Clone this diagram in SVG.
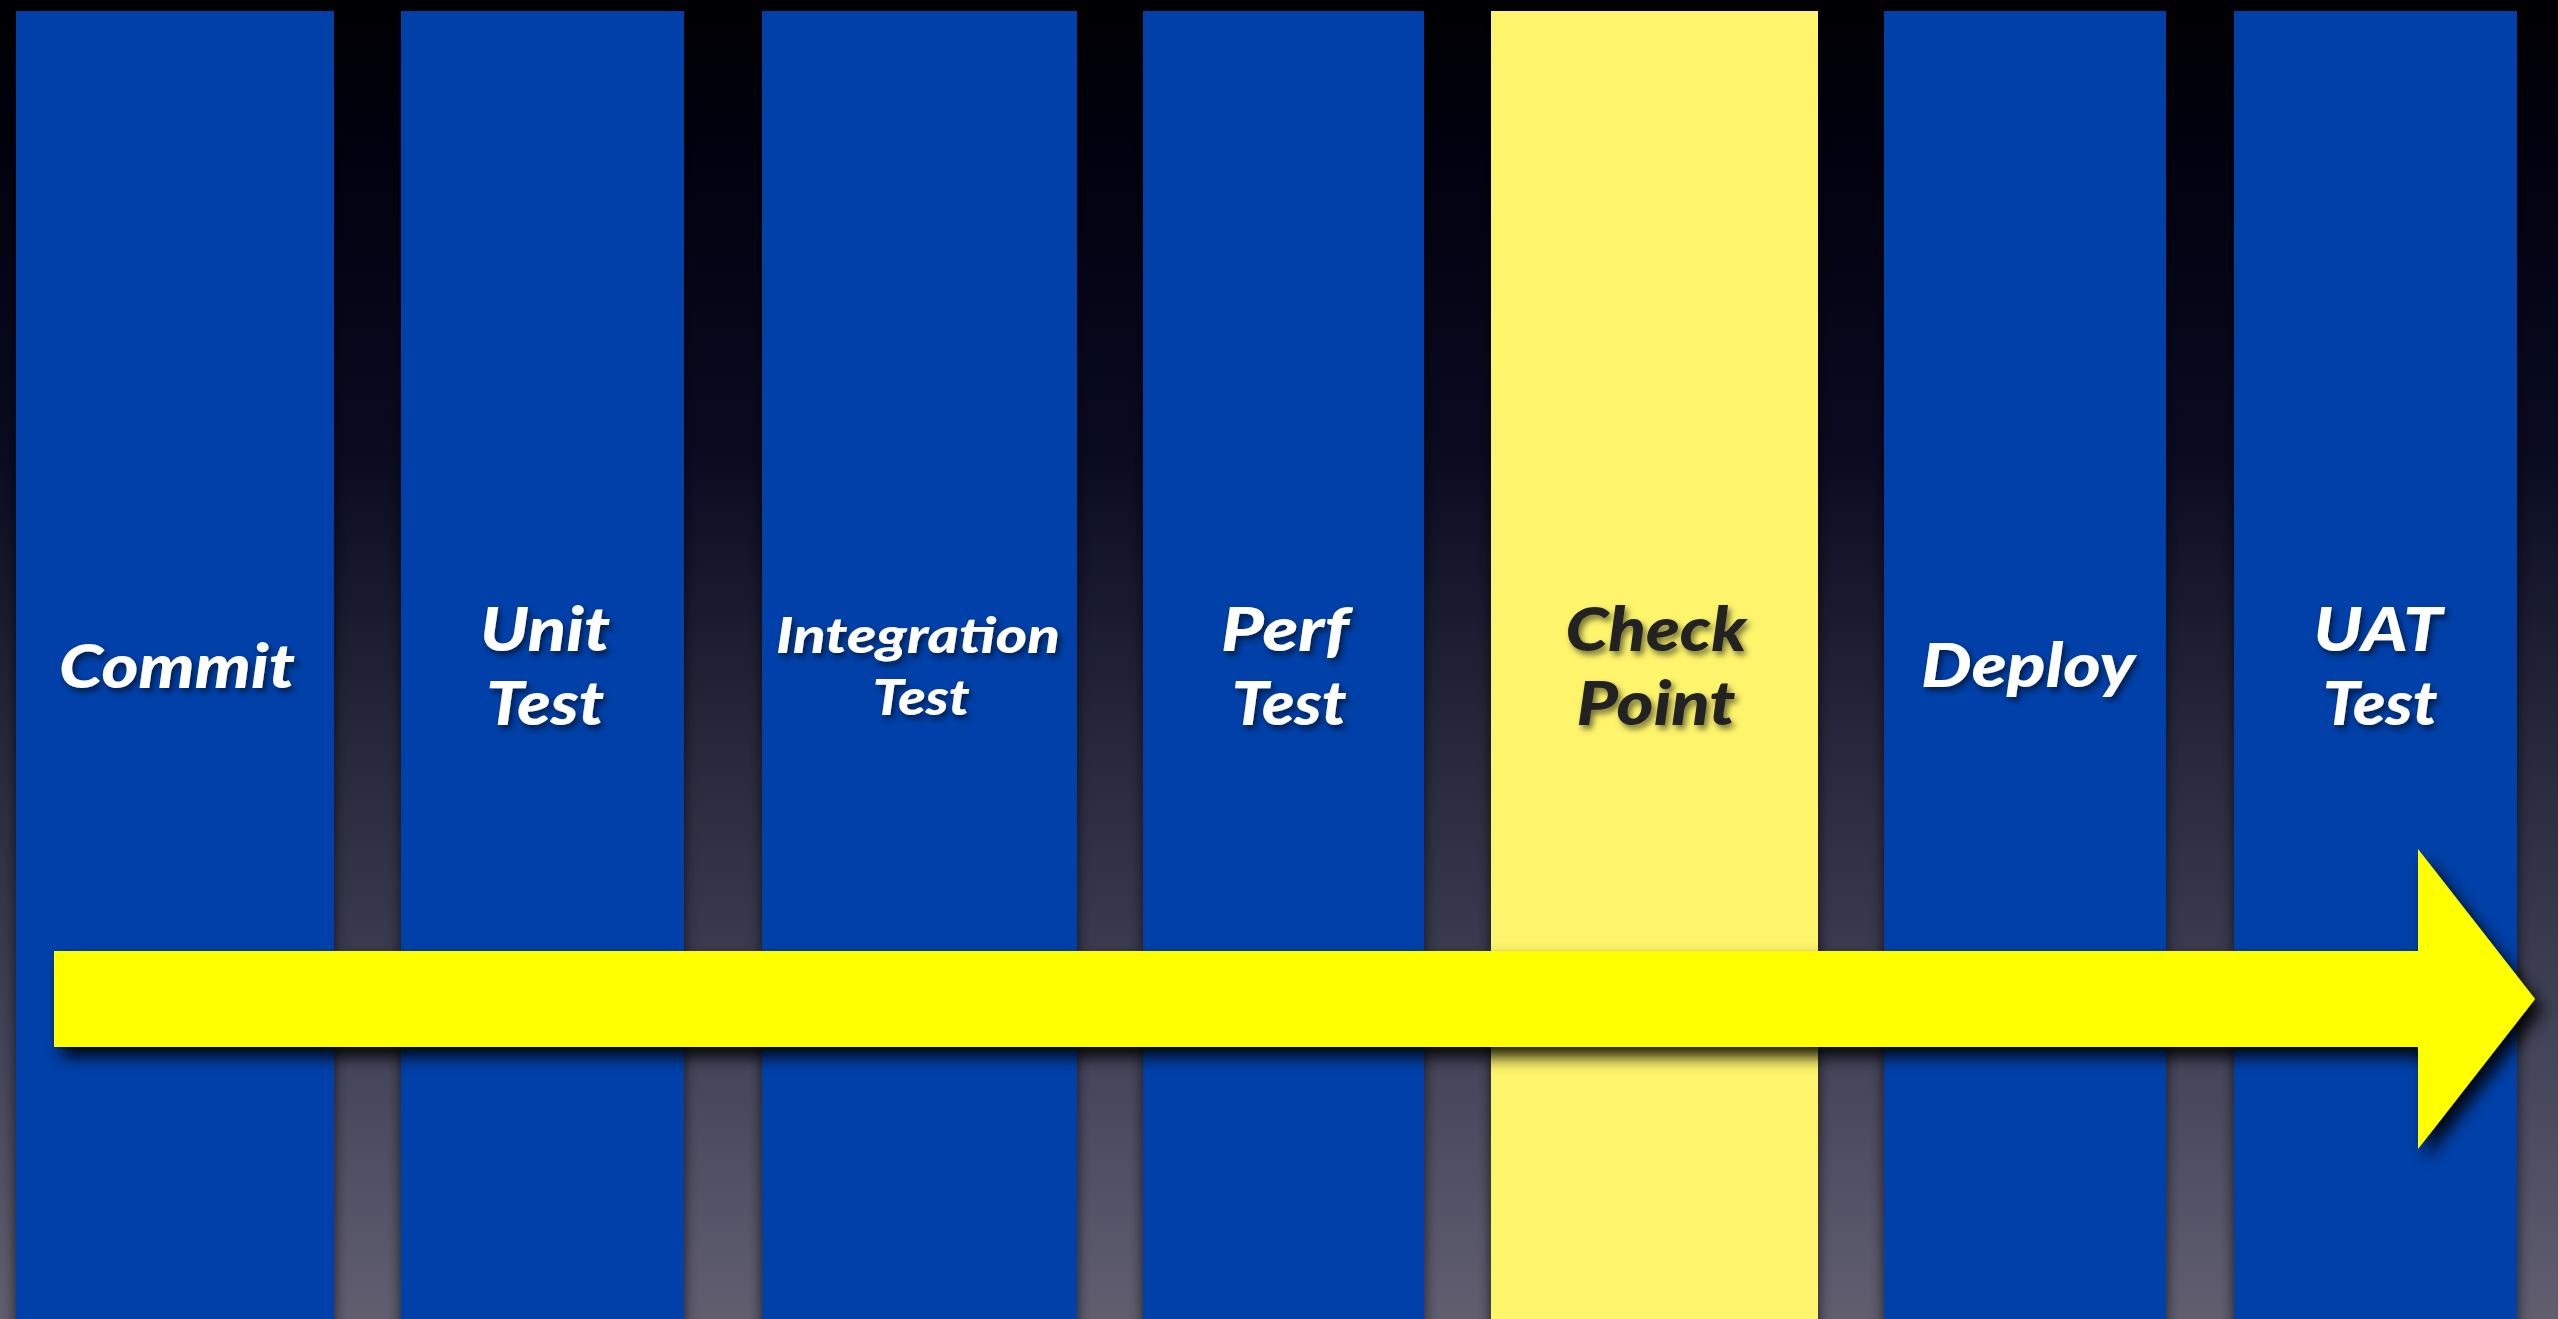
<svg xmlns="http://www.w3.org/2000/svg" width="2558" height="1319" viewBox="0 0 2558 1319">
<defs>
<linearGradient id="bg" x1="0" y1="0" x2="0" y2="1">
<stop offset="0" stop-color="#000003"/>
<stop offset="0.12" stop-color="#010110"/>
<stop offset="0.35" stop-color="#0b0b22"/>
<stop offset="0.55" stop-color="#26263a"/>
<stop offset="0.8" stop-color="#44445a"/>
<stop offset="1" stop-color="#615e70"/>
</linearGradient>
<filter id="colShadow" x="-10%" y="-5%" width="120%" height="110%">
<feDropShadow dx="0" dy="0" stdDeviation="7" flood-color="#000" flood-opacity="0.7"/>
</filter>
<filter id="arrowShadow" x="-5%" y="-30%" width="110%" height="160%">
<feDropShadow dx="8" dy="10" stdDeviation="8" flood-color="#000" flood-opacity="0.9"/>
</filter>
<filter id="txtShadow" x="-10%" y="-20%" width="120%" height="140%">
<feDropShadow dx="3" dy="4" stdDeviation="3" flood-color="#000" flood-opacity="0.55"/>
</filter>
</defs>
<style>
.col{fill:#0041a8;filter:url(#colShadow)}
.colY{fill:#fef56c;filter:url(#colShadow)}
.lbl{font-family:"Lato","Open Sans","Liberation Sans",sans-serif;font-weight:900;font-style:italic;font-size:61px;fill:#ffffff;text-anchor:middle;filter:url(#txtShadow)}
.small{font-size:50px}
.dark{fill:#222222}
</style>
<rect x="0" y="0" width="2558" height="1319" fill="url(#bg)"/>
<g id="commit">
<rect class="col" x="16" y="11" width="318" height="1330"/>
<text class="lbl" x="177" y="688" textLength="236" lengthAdjust="spacingAndGlyphs">Commit</text>
</g>
<g id="unit-test">
<rect class="col" x="401" y="11" width="283" height="1330"/>
<text class="lbl" x="545" y="651" textLength="130" lengthAdjust="spacingAndGlyphs">Unit</text>
<text class="lbl" x="545" y="725" textLength="118" lengthAdjust="spacingAndGlyphs">Test</text>
</g>
<g id="integration-test">
<rect class="col" x="762" y="11" width="315" height="1330"/>
<text class="lbl small" x="918" y="653" textLength="284" lengthAdjust="spacingAndGlyphs">Integration</text>
<text class="lbl small" x="921" y="715" textLength="97" lengthAdjust="spacingAndGlyphs">Test</text>
</g>
<g id="perf-test">
<rect class="col" x="1143" y="11" width="281" height="1330"/>
<text class="lbl" x="1285" y="651" textLength="128" lengthAdjust="spacingAndGlyphs">Perf</text>
<text class="lbl" x="1289" y="725" textLength="115" lengthAdjust="spacingAndGlyphs">Test</text>
</g>
<g id="check-point">
<rect class="colY" x="1491" y="11" width="327" height="1330"/>
<text class="lbl dark" x="1656" y="651" textLength="181" lengthAdjust="spacingAndGlyphs">Check</text>
<text class="lbl dark" x="1656" y="725" textLength="159" lengthAdjust="spacingAndGlyphs">Point</text>
</g>
<g id="deploy">
<rect class="col" x="1884" y="11" width="282" height="1330"/>
<text class="lbl" x="2028" y="687" textLength="214" lengthAdjust="spacingAndGlyphs">Deploy</text>
</g>
<g id="uat-test">
<rect class="col" x="2234" y="11" width="283" height="1330"/>
<text class="lbl" x="2378" y="651" textLength="129" lengthAdjust="spacingAndGlyphs">UAT</text>
<text class="lbl" x="2380" y="725" textLength="115" lengthAdjust="spacingAndGlyphs">Test</text>
</g>
<g id="connectors">
<polygon points="54,951 2418,951 2418,849 2535,999 2418,1149 2418,1047 54,1047" fill="#ffff00" filter="url(#arrowShadow)"/>
</g>
</svg>
